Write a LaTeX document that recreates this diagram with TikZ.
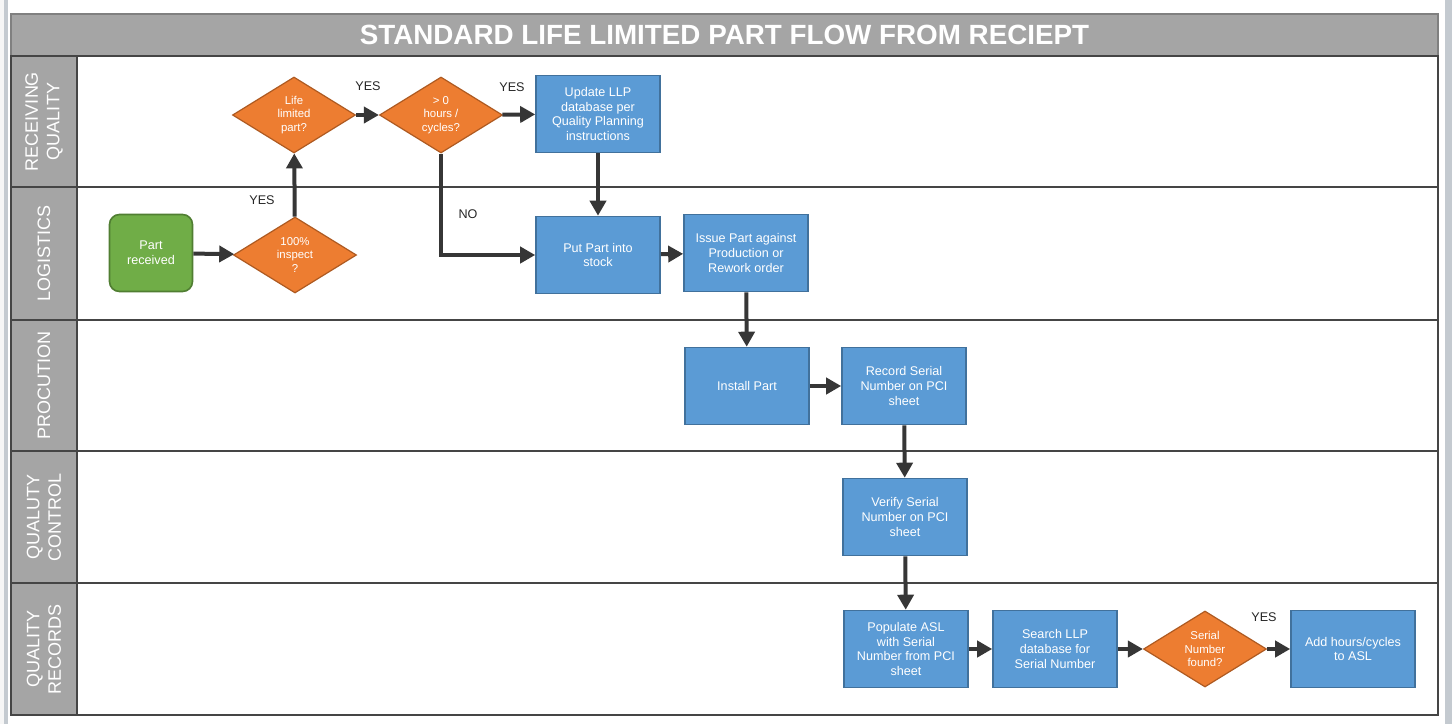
\documentclass[tikz,border=0pt]{standalone}
\usepackage{fontspec}
\setmainfont{Liberation Sans}
\usetikzlibrary{shapes.geometric,arrows.meta}
\definecolor{pagebg}{HTML}{F6F6F6}
\definecolor{sidebar}{HTML}{C4CAD0}
\definecolor{lanegray}{HTML}{A5A5A5}
\definecolor{laneline}{HTML}{454545}
\definecolor{titleedge}{HTML}{808080}
\definecolor{boxblue}{HTML}{5B9BD5}
\definecolor{boxedge}{HTML}{41719C}
\definecolor{decorange}{HTML}{ED7D31}
\definecolor{decedge}{HTML}{AE5A21}
\definecolor{startgreen}{HTML}{70AD47}
\definecolor{startedge}{HTML}{507E32}
\definecolor{flowgray}{HTML}{363636}
\begin{document}
\begin{tikzpicture}[x=0.5pt,y=-0.5pt,
  procbox/.style={draw=boxedge,fill=boxblue,line width=0.8pt,minimum width=62pt,minimum height=38.5pt,inner sep=1pt,align=center,text=white,font=\fontsize{6.3}{7.4}\selectfont},
  decide/.style={diamond,draw=decedge,fill=decorange,line width=0.6pt,minimum width=61.5pt,minimum height=38pt,inner sep=0pt,align=center,text=white,font=\fontsize{5.7}{6.7}\selectfont},
  startbox/.style={draw=startedge,fill=startgreen,line width=0.8pt,rounded corners=5pt,minimum width=41.5pt,minimum height=38.5pt,inner sep=1pt,align=center,text=white,font=\fontsize{6.3}{7.4}\selectfont},
  lanelb/.style={rotate=90,align=center,text=white,font=\fontsize{9}{10.8}\selectfont},
  answer/.style={text=black!85,font=\fontsize{6.3}{7.4}\selectfont},
  flow/.style={draw=flowgray,line width=2pt,-{Triangle[length=7.5pt,width=8pt]}}]
\useasboundingbox (0,0) rectangle (1452,724);
\fill[pagebg] (0,0) rectangle (1452,724);
\fill[white] (8,0) rectangle (1445,724);
\fill[sidebar] (4,0) rectangle (8,724);
\fill[sidebar] (1445,0) rectangle (1452,724);
% title bar
\draw[fill=lanegray,draw=titleedge,line width=1pt](11,14)rectangle(1438,56);
\node[text=white,font=\bfseries\fontsize{13.9}{15}\selectfont] (title) at (724.5,35) {STANDARD LIFE LIMITED PART FLOW FROM RECIEPT};
% lanes
\draw[fill=white,draw=laneline,line width=1pt](11,56)rectangle(1438,715);
\foreach \ka/\kb/\lb in {56/187/{RECEIVING\\QUALITY},187/320/{LOGISTICS},320/451/{PROCUTION},451/583/{QUALUTY\\CONTROL},583/715/{QUALITY\\RECORDS}}{
  \draw[fill=lanegray,draw=laneline,line width=1pt](11,\ka)rectangle(77,\kb);
  \draw[draw=laneline,line width=0.8pt](77,\kb)--(1438,\kb);
  \node[lanelb] at (44,{(\ka+\kb)/2}) {\lb};
}
% steps
\node[startbox] (recv) at (151,253) {Part\\received};
\node[decide] (insp) at (295,255) {100\%\\inspect\\?};
\node[decide] (llp) at (294,115) {Life\\limited\\part?};
\node[decide] (hrs) at (441,115) {> 0\\hours /\\cycles?};
\node[procbox] (upd) at (598,114) {Update LLP\\database per\\Quality Planning\\instructions};
\node[procbox] (stock) at (598,255) {Put Part into\\stock};
\node[procbox] (issue) at (746,253) {Issue Part against\\Production or\\Rework order};
\node[procbox] (inst) at (747,386) {Install Part};
\node[procbox] (rec) at (904,386) {Record Serial\\Number on PCI\\sheet};
\node[procbox] (ver) at (905,517) {Verify Serial\\Number on PCI\\sheet};
\node[procbox] (pop) at (906,649) {Populate ASL\\with Serial\\Number from PCI\\sheet};
\node[procbox] (srch) at (1055,649) {Search LLP\\database for\\Serial Number};
\node[decide] (found) at (1205,649) {Serial\\Number\\found?};
\node[procbox] (add) at (1353,649) {Add hours/cycles\\to ASL};
% answers
\node[answer] (a1) at (262,200) {YES};
\node[answer] (a2) at (368,86) {YES};
\node[answer] (a3) at (512,87) {YES};
\node[answer] (a4) at (468,214) {NO};
\node[answer] (a5) at (1264,617) {YES};
% connectors
\draw[flow](recv)--(insp);
\draw[flow](insp)--(llp);
\draw[flow](llp)--(hrs);
\draw[flow](hrs)--(upd);
\draw[flow](upd)--(stock);
\draw[flow](hrs.south)|-(stock.west);
\draw[flow](stock)--(issue);
\draw[flow](issue)--(inst);
\draw[flow](inst)--(rec);
\draw[flow](rec)--(ver);
\draw[flow](ver)--(pop);
\draw[flow](pop)--(srch);
\draw[flow](srch)--(found);
\draw[flow](found)--(add);
\end{tikzpicture}
\end{document}
